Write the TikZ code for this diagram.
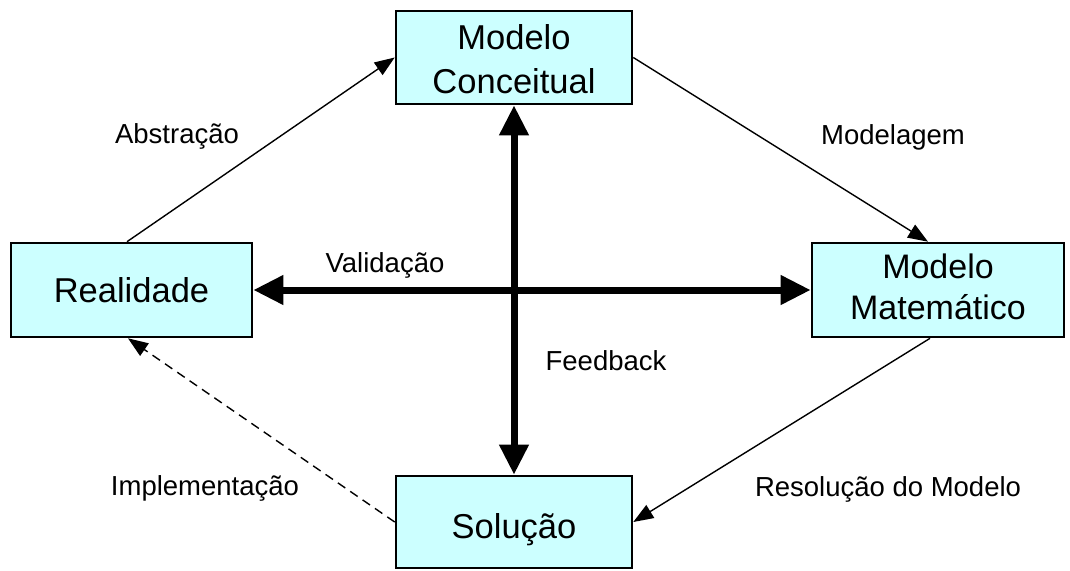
\documentclass[tikz,border=0pt]{standalone}
\usepackage{fontspec}
\setmainfont{Liberation Sans}
\usetikzlibrary{arrows.meta}
\definecolor{boxfill}{RGB}{204,255,255}
\tikzset{
  stagebox/.style={draw=black, line width=2.6pt, fill=boxfill, inner sep=0pt,
    align=center, font=\fontsize{34.5}{44}\selectfont},
  flowlabel/.style={font=\fontsize{27.5}{33}\selectfont, anchor=base, inner sep=0pt},
  thinarrow/.style={line width=1.4pt, -{Triangle[length=20pt 0 0,width=15pt 0 0]}},
  thickarrow/.style={line width=7pt,
    {Triangle[length=30pt 0 0,width=28pt 0 0]}-{Triangle[length=30pt 0 0,width=28pt 0 0]}},
}
\begin{document}
\begin{tikzpicture}[x=1pt,y=-1pt]
\useasboundingbox (0,0) rectangle (1070,570);

% the four stages of the modelling cycle
\node[stagebox, minimum width=236pt, minimum height=93pt, text height=71.7pt, text depth=0pt] (mc) at (514,57.5) {Modelo\\Conceitual};
\node[stagebox, minimum width=241pt, minimum height=94pt, text height=24.7pt, text depth=0pt] (re) at (131.5,290) {Realidade};
\node[stagebox, minimum width=252pt, minimum height=94pt, font=\fontsize{34}{41}\selectfont, text height=58.4pt, text depth=0pt] (mm) at (938,290) {Modelo\\Matemático};
\node[stagebox, minimum width=236pt, minimum height=92pt, text height=33.7pt, text depth=0pt] (so) at (514,522) {Solução};

% the cycle around the boxes
\draw[thinarrow] ([xshift=-4.5pt]re.north) -- (mc.west);
\draw[thinarrow] (mc.east) -- ([xshift=-10pt]mm.north);
\draw[thinarrow] ([xshift=-8pt]mm.south) -- (so.east);
\draw[thinarrow, dash pattern=on 9pt off 6pt] (so.west) -- ([xshift=-3.5pt]re.south);

% validation and feedback axes
\draw[thickarrow] (re.east) -- (mm.west);
\draw[thickarrow] (mc.south) -- (so.north);

% labels
\node[flowlabel] (lab) at (177,143) {Abstração};
\node[flowlabel] (lmo) at (893,144) {Modelagem};
\node[flowlabel] (lva) at (385,272) {Validação};
\node[flowlabel] (lfe) at (606,370) {Feedback};
\node[flowlabel] (lim) at (205,495) {Implementação};
\node[flowlabel] (lre) at (888,496) {Resolução do Modelo};
\end{tikzpicture}
\end{document}
